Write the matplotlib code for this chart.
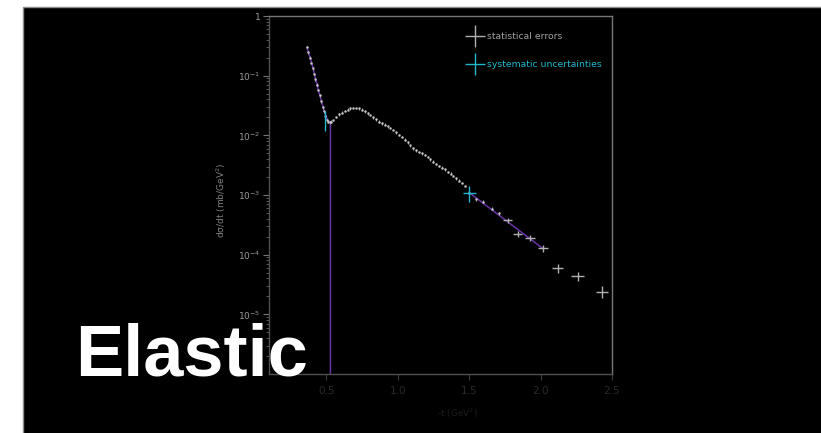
import matplotlib
matplotlib.use('Agg')
import matplotlib.pyplot as plt
import numpy as np
from matplotlib.patches import Rectangle
from matplotlib.container import ErrorbarContainer
from matplotlib.legend_handler import HandlerErrorbar

# dense low-|t| measurements (-t in GeV^2, dsigma/dt in mb/GeV^2)
t_dense = [0.365, 0.375, 0.385, 0.395, 0.405, 0.415, 0.425, 0.435, 0.445, 0.455,
           0.465, 0.475, 0.485, 0.495, 0.505, 0.515, 0.525, 0.535, 0.55, 0.57,
           0.59, 0.61, 0.63, 0.65, 0.67, 0.69, 0.71, 0.73, 0.75, 0.77,
           0.79, 0.81, 0.83, 0.85, 0.87, 0.89, 0.91, 0.93, 0.95, 0.97,
           0.99, 1.01, 1.03, 1.05, 1.07, 1.09, 1.11, 1.13, 1.15, 1.17,
           1.19, 1.21, 1.23, 1.25, 1.27, 1.29, 1.31, 1.33, 1.35, 1.37,
           1.39, 1.41, 1.43, 1.45, 1.47, 1.50, 1.55, 1.60, 1.66, 1.71]
dsig_dense = [0.302, 0.245, 0.200, 0.162, 0.132, 0.107, 0.0871, 0.0708, 0.0575, 0.0468,
              0.0372, 0.0295, 0.0251, 0.0209, 0.0182, 0.0170, 0.0166, 0.0170, 0.0182, 0.0204,
              0.0224, 0.0240, 0.0257, 0.0269, 0.0282, 0.0288, 0.0288, 0.0282, 0.0269, 0.0251,
              0.0234, 0.0219, 0.0200, 0.0186, 0.0170, 0.0158, 0.0151, 0.0141, 0.0132, 0.0123,
              0.0112, 0.0102, 0.00933, 0.00851, 0.00759, 0.00676, 0.00603, 0.00562, 0.00525, 0.00501,
              0.00468, 0.00437, 0.00398, 0.00363, 0.00331, 0.00309, 0.00288, 0.00269, 0.00245, 0.00229,
              0.00209, 0.00191, 0.00174, 0.00158, 0.00141, 0.00110, 0.000851, 0.000776, 0.000589, 0.000490]

# sparse high-|t| measurements
t_sparse = [1.77, 1.84, 1.925, 2.02, 2.12, 2.26, 2.43]
dsig_sparse = [0.000380, 0.000224, 0.000191, 0.000129, 0.0000603, 0.0000437, 0.0000240]
terr_sparse = [0.03, 0.03, 0.035, 0.035, 0.04, 0.045, 0.045]
rel_err_sparse = [0.10, 0.12, 0.12, 0.14, 0.17, 0.18, 0.22]

# systematic uncertainty bars
t_sys = [0.495, 1.50]
dsig_sys = [0.0185, 0.00110]
sys_lo = [0.0118, 0.00076]
sys_hi = [0.0254, 0.00143]
terr_sys = [0.005, 0.045]

# fit curves
fit1_t = [0.365, 0.40, 0.45, 0.49, 0.51, 0.53, 0.53]
fit1_y = [0.30, 0.16, 0.052, 0.024, 0.018, 0.0165, 1e-6]
fit2_t = [1.50, 2.02]
fit2_y = [0.00110, 0.000125]

ytick_vals = [1e-5, 1e-4, 1e-3, 1e-2, 1e-1, 1]
ytick_labels = ['10$^{-5}$', '10$^{-4}$', '10$^{-3}$', '10$^{-2}$', '10$^{-1}$', '1']
xtick_vals = [0.5, 1.0, 1.5, 2.0, 2.5]

fig = plt.figure(figsize=(8.21, 4.33), dpi=100)
fig.patch.set_facecolor('white')
fig.add_artist(Rectangle((23 / 821, -0.05), 1.0, 1 - 7 / 433 + 0.05,
                         transform=fig.transFigure, facecolor='black',
                         edgecolor='#8a8a8a', linewidth=1.0, zorder=-5))

ax = fig.add_axes([269 / 821, 1 - 374 / 433, 343 / 821, 358 / 433])
ax.set_facecolor('black')
ax.set_yscale('log')
ax.set_xlim(0.1, 2.5)
ax.set_ylim(1e-6, 1)

purple = '#6a34a6'
cyan = '#22b8cc'
grey = '#b0b0b0'

ax.plot(fit1_t, fit1_y, color=purple, lw=1.1, zorder=2)
ax.plot(fit2_t, fit2_y, color=purple, lw=1.1, zorder=2)

td = np.array(t_dense)
yd = np.array(dsig_dense)
ax.errorbar(td, yd, xerr=0.006, yerr=0.05 * yd, fmt='s', ms=1.7,
            color='#c8c8c8', ecolor='#a8a8a8', elinewidth=0.7, mec='none', zorder=3)

ys = np.array(dsig_sparse)
stat = ax.errorbar(t_sparse, ys, xerr=terr_sparse, yerr=np.array(rel_err_sparse) * ys,
                   fmt='none', ecolor=grey, elinewidth=1.0, zorder=3)

yc = np.array(dsig_sys)
sys = ax.errorbar(t_sys, yc, xerr=terr_sys,
                  yerr=[yc - np.array(sys_lo), np.array(sys_hi) - yc],
                  fmt='none', ecolor=cyan, elinewidth=1.0, zorder=4)

leg = ax.legend([stat, sys], ['statistical errors', 'systematic uncertainties'],
                loc='upper left', bbox_to_anchor=(0.571, 0.954), frameon=False,
                fontsize=6.7, labelcolor=['#a0a0a0', cyan], handlelength=2.2,
                handletextpad=0.15, labelspacing=2.0, borderpad=0, borderaxespad=0,
                handler_map={ErrorbarContainer: HandlerErrorbar(xerr_size=1.05, yerr_size=1.2)})

ax.set_yticks(ytick_vals)
ax.set_yticklabels(ytick_labels)
ax.set_xticks(xtick_vals)
ax.set_xticklabels(['0.5', '1.0', '1.5', '2.0', '2.5'])
ax.tick_params(axis='y', which='major', colors='#777777', labelcolor='#9a9a9a',
               labelsize=6.5, length=4, direction='out', pad=2)
ax.tick_params(axis='y', which='minor', colors='#666666', length=2, direction='out')
ax.tick_params(axis='x', which='both', colors='#3a3a3a', labelcolor='#2a2a2a',
               labelsize=7.5, length=4, direction='out', pad=5)
ax.xaxis.set_minor_locator(plt.NullLocator())

for side in ['left', 'bottom']:
    ax.spines[side].set_color('#505050')
for side in ['top', 'right']:
    ax.spines[side].set_color('#777777')
for sp in ax.spines.values():
    sp.set_linewidth(1.0)

ax.set_ylabel('d\u03c3/dt (mb/GeV$^2$)', color='#808080', fontsize=6.5)
ax.yaxis.set_label_coords(-0.12, 0.486)
ax.set_xlabel('-t (GeV$^2$)', color='#1c1c1c', fontsize=6.5)
ax.xaxis.set_label_coords(0.55, -0.09)

fig.text(75 / 821, 1 - 375 / 433, 'Elastic', color='white', fontsize=52,
         fontweight='bold', family='Liberation Sans', ha='left', va='baseline')

fig.savefig('out.png', dpi=100, facecolor=fig.get_facecolor())
